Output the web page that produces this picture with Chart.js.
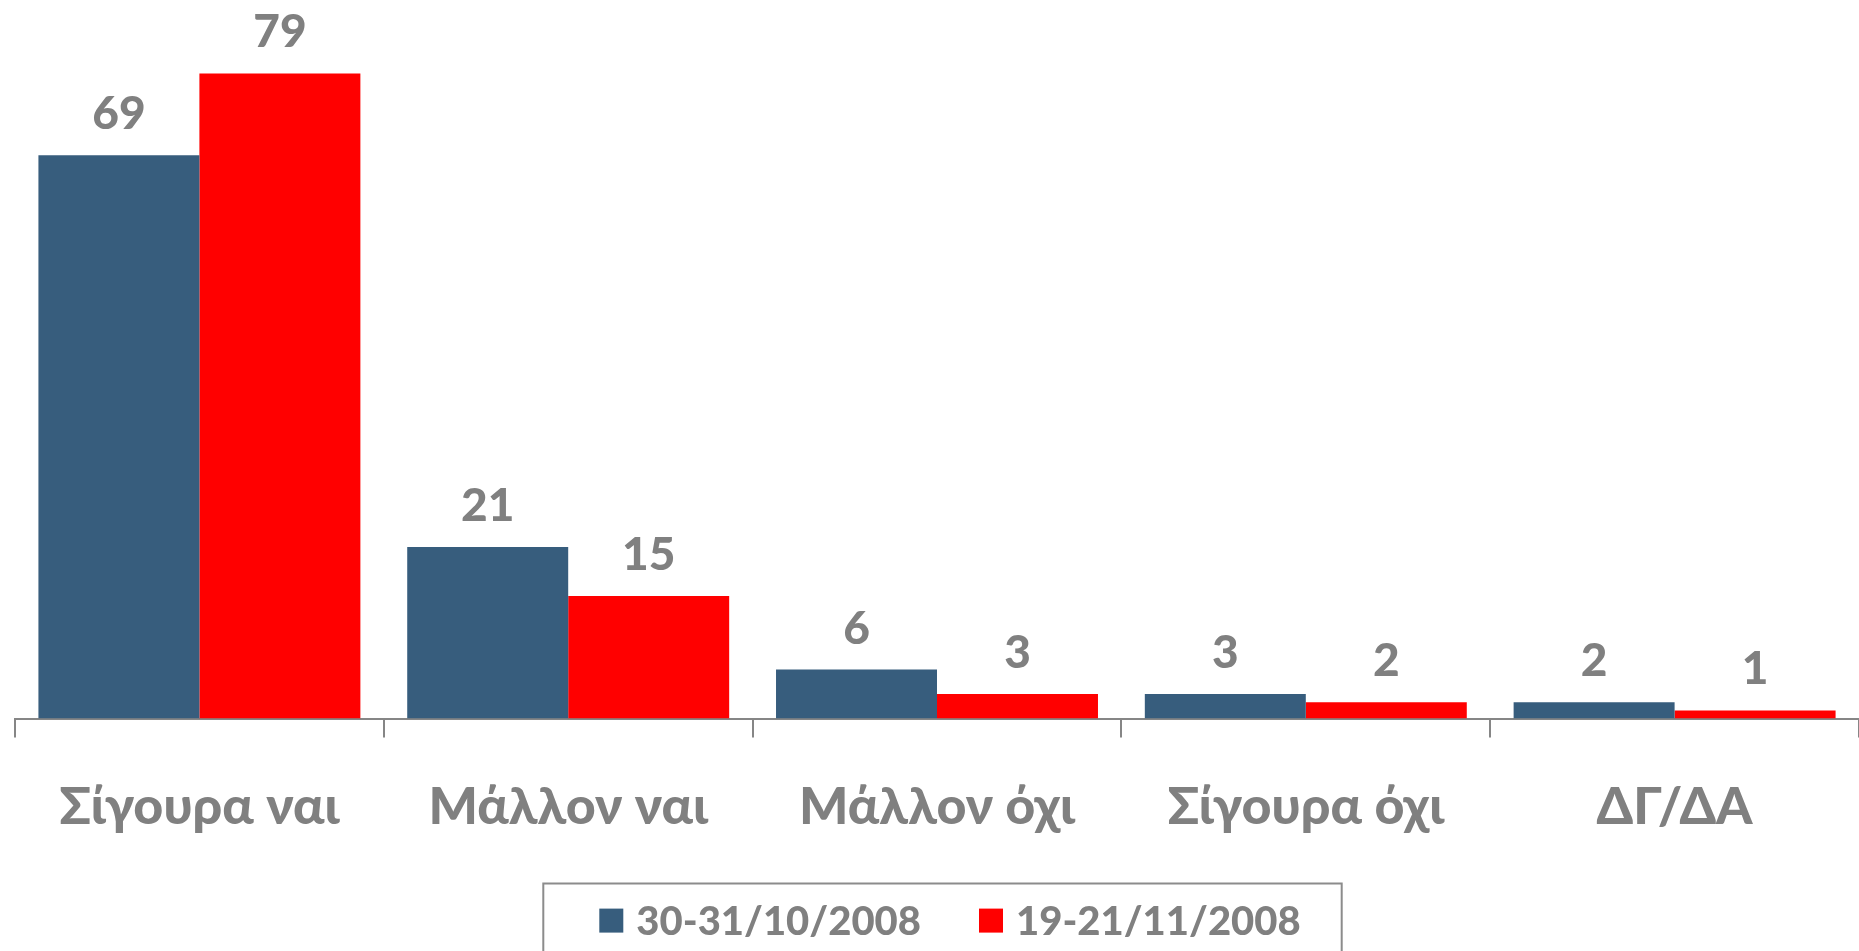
<!DOCTYPE html>
<html>
<head>
<meta charset="utf-8">
<script src="https://cdn.jsdelivr.net/npm/chart.js@4.4.1/dist/chart.umd.min.js"></script>
<style>
  html, body { margin: 0; padding: 0; background: #fff; overflow: hidden; }
  #wrap { position: relative; width: 1859px; height: 951px; }
</style>
</head>
<body>
<div id="wrap"><canvas id="surveyChart"></canvas></div>
<script>
// answers
const categories = ['Σίγουρα ναι', 'Μάλλον ναι', 'Μάλλον όχι', 'Σίγουρα όχι', 'ΔΓ/ΔΑ'];
// survey waves
const seriesNames = ['30-31/10/2008', '19-21/11/2008'];
const octValues = [69, 21, 6, 3, 2];
const novValues = [79, 15, 3, 2, 1];

const BLUE = '#375d7d';
const RED = '#ff0000';
const GREY = '#808080';
const FONT = 'Lato, "Open Sans", sans-serif';
const WEIGHT = 900;

// numbers above each bar
const barValues = {
  id: 'barValues',
  afterDatasetsDraw(chart) {
    const ctx = chart.ctx;
    ctx.save();
    ctx.font = WEIGHT + ' 46px ' + FONT;
    ctx.fillStyle = GREY;
    ctx.textAlign = 'center';
    ctx.textBaseline = 'alphabetic';
    chart.data.datasets.forEach((ds, i) => {
      chart.getDatasetMeta(i).data.forEach((bar, j) => {
        ctx.fillText(ds.data[j], bar.x, bar.y - 26);
      });
    });
    ctx.restore();
  }
};

// framed legend under the axis
const boxLegend = {
  id: 'boxLegend',
  afterDraw(chart) {
    const ctx = chart.ctx;
    const area = chart.chartArea;
    const box = 24, gap = 13, spacing = 58;
    ctx.save();
    ctx.font = WEIGHT + ' 40px ' + FONT;
    const items = chart.data.datasets.map(ds => ({
      label: ds.label,
      color: ds.backgroundColor,
      w: ctx.measureText(ds.label).width
    }));
    const total = items.reduce((s, it) => s + box + gap + it.w, 0) + spacing * (items.length - 1);
    const top = area.bottom + 165;
    const cy = top + 37;
    let x = (area.left + area.right) / 2 + 13 - total / 2;
    const frameL = x - 56, frameR = x + total + 41;

    ctx.strokeStyle = '#8c8c8c';
    ctx.lineWidth = 2;
    ctx.beginPath();
    ctx.moveTo(frameL, chart.height + 5);
    ctx.lineTo(frameL, top);
    ctx.lineTo(frameR, top);
    ctx.lineTo(frameR, chart.height + 5);
    ctx.stroke();

    ctx.textBaseline = 'alphabetic';
    items.forEach(it => {
      ctx.fillStyle = it.color;
      ctx.fillRect(x, cy - 12, box, box);
      x += box + gap;
      ctx.fillStyle = GREY;
      ctx.fillText(it.label, x, cy + 14);
      x += it.w + spacing;
    });
    ctx.restore();
  }
};

const ctx = document.getElementById('surveyChart').getContext('2d');
new Chart(ctx, {
  type: 'bar',
  data: {
    labels: categories,
    datasets: [
      {
        label: seriesNames[0],
        data: octValues,
        backgroundColor: BLUE,
        barPercentage: 1,
        categoryPercentage: 0.873
      },
      {
        label: seriesNames[1],
        data: novValues,
        backgroundColor: RED,
        barPercentage: 1,
        categoryPercentage: 0.873
      }
    ]
  },
  options: {
    responsive: true,
    maintainAspectRatio: false,
    animation: false,
    layout: {
      padding: { left: 15, right: 0, top: 0, bottom: 75 }
    },
    plugins: {
      legend: { display: false },
      tooltip: { enabled: false }
    },
    scales: {
      x: {
        grid: {
          display: true,
          drawOnChartArea: false,
          drawTicks: true,
          tickLength: 19,
          color: '#868686',
          lineWidth: 2
        },
        border: {
          display: true,
          color: '#868686',
          width: 2
        },
        ticks: {
          color: GREY,
          padding: 38,
          font: {
            family: FONT,
            size: 52,
            weight: WEIGHT
          }
        }
      },
      y: {
        display: false,
        min: 0,
        max: 88
      }
    }
  },
  plugins: [barValues, boxLegend]
});
</script>
</body>
</html>
